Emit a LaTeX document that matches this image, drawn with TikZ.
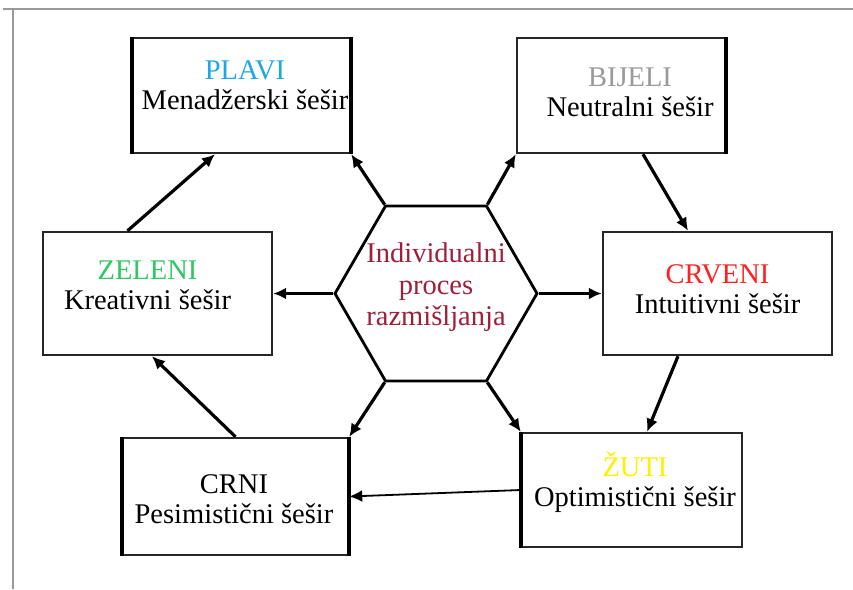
\documentclass[tikz,border=0pt]{standalone}
\usepackage{fontspec}
\setmainfont{Liberation Serif}
\usetikzlibrary{arrows.meta,shapes.geometric}
\definecolor{plavi}{HTML}{1CA7E6}
\definecolor{bijeli}{HTML}{9A9A9A}
\definecolor{zeleni}{HTML}{2FC864}
\definecolor{crveni}{HTML}{FF2020}
\definecolor{zuti}{HTML}{FFF000}
\definecolor{hexred}{HTML}{9E1F3A}
\begin{document}
\begin{tikzpicture}[x=1pt,y=-1pt,
    hat/.style={draw=black!85,line width=2.4pt,fill=white,inner sep=0pt},
    hattxt/.style={align=center,inner sep=0pt,font=\fontsize{28.5}{30}\selectfont},
    heavyside/.style={line width=4.5pt},
    arr/.style={line width=3.2pt,-{Latex[length=13pt,width=12pt]}}]
    \useasboundingbox (0,0) rectangle (853,589);
    \draw[gray!80,line width=2pt] (3,9) -- (853,9) (13,9) -- (13,589);
    \node[hat,minimum width=217pt,minimum height=115pt] (plavi) at (241.5,95.5) {};
    \node[hat,minimum width=208pt,minimum height=115pt] (bijeli) at (621,95.5) {};
    \node[hat,minimum width=229pt,minimum height=123pt] (zeleni) at (157.5,293.5) {};
    \node[hat,minimum width=229pt,minimum height=123pt] (crveni) at (717.5,293.5) {};
    \node[hat,minimum width=225pt,minimum height=117pt] (crni) at (235.5,496.5) {};
    \node[hat,minimum width=220pt,minimum height=114pt] (zuti) at (632,490) {};
    \draw[heavyside] (plavi.north west) -- (plavi.south west) (plavi.north east) -- (plavi.south east);
    \draw[heavyside] (bijeli.north east) -- (bijeli.south east);
    \draw[heavyside] (crni.north west) -- (crni.south west) (crni.north east) -- (crni.south east);
    \draw[heavyside] (zuti.north west) -- (zuti.south west);
    \node[hattxt] (plavit) at ([shift={(3.5pt,10pt)}]plavi.center) {\textcolor{plavi}{PLAVI}\\Menadžerski šešir};
    \node[hattxt] (bijelit) at ([shift={(9pt,3pt)}]bijeli.center) {\textcolor{bijeli}{BIJELI}\\Neutralni šešir};
    \node[hattxt] (zelenit) at ([shift={(-10pt,8pt)}]zeleni.center) {\textcolor{zeleni}{ZELENI}\\Kreativni šešir};
    \node[hattxt] (crvenit) at ([shift={(0pt,4.5pt)}]crveni.center) {\textcolor{crveni}{CRVENI}\\Intuitivni šešir};
    \node[hattxt] (crnit) at ([shift={(-1.5pt,-2.5pt)}]crni.center) {CRNI\\Pesimistični šešir};
    \node[hattxt] (zutit) at ([shift={(3pt,7.5pt)}]zuti.center) {\textcolor{zuti}{ŽUTI}\\Optimistični šešir};
    \node[draw,line width=2.8pt,regular polygon,regular polygon sides=6,minimum size=202pt,inner sep=0pt] (hex) at (436,293.5) {};
    \node[align=center,inner sep=0pt,text=hexred,font=\fontsize{28.5}{31.5}\selectfont] (hext) at ([yshift=6pt]hex.center) {Individualni\\proces\\razmišljanja};
    \draw[arr] (hex.120) -- (plavi.south east);
    \draw[arr] (hex.60) -- (bijeli.south west);
    \draw[arr] (hex.180) -- (zeleni.east);
    \draw[arr] (hex.0) -- (crveni.west);
    \draw[arr] (hex.240) -- (crni.north east);
    \draw[arr] (hex.300) -- (zuti.north west);
    \draw[arr] ([xshift=22pt]bijeli.south) -- ([xshift=-29.5pt]crveni.north);
    \draw[arr] ([xshift=-39.5pt]crveni.south) -- ([xshift=15pt]zuti.north);
    \draw[arr,line width=1.8pt] (zuti.west) -- (crni.east);
    \draw[arr] (crni.north) -- ([xshift=-5.5pt]zeleni.south);
    \draw[arr] ([xshift=-30pt]zeleni.north) -- ([xshift=-26.5pt]plavi.south);
\end{tikzpicture}
\end{document}
